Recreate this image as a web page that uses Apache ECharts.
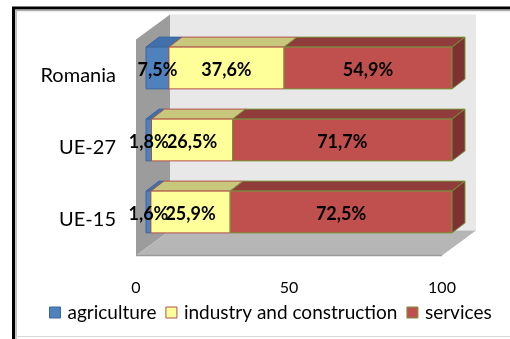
<!DOCTYPE html>
<html><head><meta charset="utf-8">
<script src="https://cdn.jsdelivr.net/npm/echarts@6/dist/echarts.min.js"></script>
<style>html,body{margin:0;padding:0;background:#fff}#c{width:510px;height:339px}</style>
</head><body><div id="c"></div><script>
var categories = ['UE-15', 'UE-27', 'Romania'];
var agriculture = [1.6, 1.8, 7.5];
var industry = [25.9, 26.5, 37.6];
var services = [72.5, 71.7, 54.9];
var seriesNames = ['agriculture', 'industry and construction', 'services'];
var xTicks = [0, 50, 100];

var FONT = 'Lato';
var styles = [
  {front: '#4f81bd', top: '#4170aa', side: '#3a6296', border: '#3b679e'},
  {front: '#ffff99', top: '#c8c87c', side: '#d6d680', border: '#b0504c'},
  {front: '#c0504d', top: '#8f3c3a', side: '#7b3230', border: '#77933c'}
];
var valuesBySeries = [agriculture, industry, services];
var stacked = [];
var labelData = [];
(function () {
  var base = categories.map(function () { return 0; });
  valuesBySeries.forEach(function (vals, s) {
    var d = [];
    vals.forEach(function (v, c) {
      d.push([base[c], base[c] + v, c, v]);
      labelData.push([base[c], base[c] + v, c, v]);
      base[c] += v;
    });
    stacked.push(d);
  });
})();

var FX = 10, FY = -7.5, DX = 13, DY = -10, WX = 34, WY = -25, BAR = 0.58;

function renderWalls(params, api) {
  var a = api.coord([xTicks[0], 0]);
  var b = api.coord([xTicks[xTicks.length - 1], 0]);
  var band = api.size([0, 1])[1];
  var top = api.coord([xTicks[0], categories.length - 1])[1] - band / 2;
  var bottom = a[1] + band / 2;
  var L = a[0], R = b[0];
  return {type: 'group', children: [
    {type: 'rect', shape: {x: L + WX, y: top + WY, width: R - L, height: bottom - top}, style: {fill: '#e8e8e8'}},
    {type: 'polygon', shape: {points: [[L, top], [L + WX, top + WY], [L + WX, bottom + WY], [L, bottom]]}, style: {fill: '#9c9c9c'}},
    {type: 'polygon', shape: {points: [[L, bottom], [R, bottom], [R + WX, bottom + WY], [L + WX, bottom + WY]]}, style: {fill: '#b6b6b6'}},
    {type: 'line', shape: {x1: L, y1: bottom, x2: R, y2: bottom}, style: {stroke: '#9a9a9a', lineWidth: 1.5}}
  ]};
}

function geom(api) {
  var x0 = api.value(0), x1 = api.value(1), c = api.value(2);
  var p0 = api.coord([x0, c]), p1 = api.coord([x1, c]);
  var band = api.size([0, 1])[1];
  var h = band * BAR;
  return {xl: p0[0] + FX, xr: p1[0] + FX, yt: p0[1] - h / 2 + FY, h: h};
}

function makeBarRender(s) {
  return function (params, api) {
    var g = geom(api), st = styles[s];
    var xl = g.xl, xr = g.xr, yt = g.yt, yb = g.yt + g.h;
    var ch = [
      {type: 'polygon', shape: {points: [[xl, yt], [xl + DX, yt + DY], [xr + DX, yt + DY], [xr, yt]]},
        style: {fill: st.top, stroke: st.border, lineWidth: 1}},
      {type: 'rect', shape: {x: xl, y: yt, width: xr - xl, height: g.h},
        style: {fill: st.front, stroke: st.border, lineWidth: 1}}
    ];
    if (s === valuesBySeries.length - 1) {
      ch.push({type: 'polygon', shape: {points: [[xr, yt], [xr + DX, yt + DY], [xr + DX, yb + DY], [xr, yb]]},
        style: {fill: st.side, stroke: st.border, lineWidth: 1}});
    }
    return {type: 'group', children: ch};
  };
}

function renderLabel(params, api) {
  var g = geom(api);
  var v = api.value(3);
  return {type: 'text', x: (g.xl + g.xr) / 2, y: g.yt + g.h / 2 + 2,
    style: {text: v.toFixed(1).replace('.', ',') + '%', fill: '#000', font: 'bold 18px ' + FONT,
      align: 'center', verticalAlign: 'middle'}};
}

var series = [{
  type: 'custom', name: 'walls', renderItem: renderWalls, data: [[0, 0, 0]],
  encode: {x: 0, y: 1}, silent: true, z: 1
}];
valuesBySeries.forEach(function (vals, s) {
  series.push({
    type: 'custom', name: seriesNames[s], renderItem: makeBarRender(s), data: stacked[s],
    encode: {x: [0, 1], y: 2}, z: 2,
    itemStyle: {color: styles[s].front, borderColor: styles[s].border, borderWidth: 1}
  });
});
series.push({type: 'custom', name: 'labels', renderItem: renderLabel, data: labelData,
  encode: {x: [0, 1], y: 2}, z: 5, silent: true});

var chart = echarts.init(document.getElementById('c'), null, {renderer: 'canvas'});
chart.setOption({
  animation: false,
  backgroundColor: '#fff',
  grid: {left: 136, top: 39.5, width: 306, height: 216, containLabel: false},
  xAxis: {type: 'value', min: xTicks[0], max: xTicks[xTicks.length - 1], interval: 50,
    axisLine: {show: false}, axisTick: {show: false}, splitLine: {show: false},
    axisLabel: {margin: 24, color: '#000', fontFamily: FONT, fontSize: 16}},
  yAxis: {type: 'category', data: categories,
    axisLine: {show: false}, axisTick: {show: false}, splitLine: {show: false},
    axisLabel: {margin: 20, color: '#000', fontFamily: FONT, fontSize: 20}},
  legend: {
    left: 49, top: 303, padding: 0, icon: 'rect', itemWidth: 11, itemHeight: 11, itemGap: 9,
    textStyle: {fontFamily: FONT, fontSize: 19, color: '#000', padding: [0, 0, 0, 2]},
    data: seriesNames.map(function (n, i) {
      return {name: n, itemStyle: {color: styles[i].front, borderColor: styles[i].border, borderWidth: 1}};
    })
  },
  graphic: [
    {type: 'rect', z: 100, silent: true, shape: {x: 13.5, y: 8, width: 700, height: 500}, style: {fill: 'none', stroke: '#000', lineWidth: 3}},
    {type: 'rect', z: 100, silent: true, shape: {x: 16, y: 10.5, width: 700, height: 500}, style: {fill: 'none', stroke: '#b0b0b0', lineWidth: 1.5}},
    {type: 'line', z: 100, silent: true, shape: {x1: 16, y1: 336.5, x2: 510, y2: 336.5}, style: {stroke: '#d8d8d8', lineWidth: 1}}
  ],
  series: series
});
</script></body></html>
